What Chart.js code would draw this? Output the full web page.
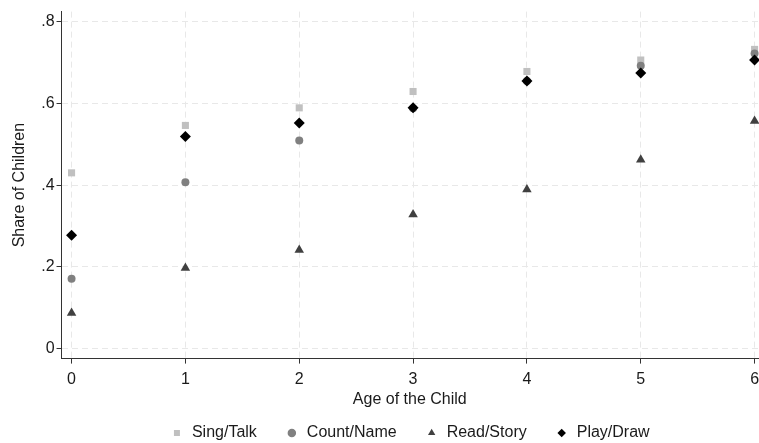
<!DOCTYPE html>
<html>
<head>
<meta charset="utf-8">
<script src="https://cdn.jsdelivr.net/npm/chart.js@4/dist/chart.umd.min.js"></script>
<style>
  html, body { margin: 0; padding: 0; background: #fff; }
  #wrap { width: 759px; height: 443px; position: relative; }
</style>
</head>
<body>
<div id="wrap"><canvas id="chart"></canvas></div>
<script>
// data
const ages = [0, 1, 2, 3, 4, 5, 6];
const singTalk = [0.430, 0.546, 0.589, 0.629, 0.678, 0.706, 0.732];
const countName = [0.171, 0.407, 0.509, 0.588, 0.655, 0.692, 0.722];
const readStory = [0.087, 0.197, 0.241, 0.328, 0.389, 0.462, 0.557];
const playDraw = [0.277, 0.519, 0.552, 0.589, 0.655, 0.674, 0.706];
const yTicks = [0, 0.2, 0.4, 0.6, 0.8];

const font = 'Arial, "Liberation Sans", sans-serif';
const toPoints = (vals) => ages.map((a, i) => ({ x: a, y: vals[i] }));

// Stata style y labels: 0 .2 .4 ...
const fmtY = (v) => {
  const r = Math.round(v * 10) / 10;
  return r === 0 ? '0' : r.toFixed(1).replace(/^0/, '');
};

const ctx = document.getElementById('chart').getContext('2d');
new Chart(ctx, {
  type: 'scatter',
  data: {
    datasets: [
      { label: 'Sing/Talk', data: toPoints(singTalk), pointStyle: 'rect', pointRadius: 5,
        backgroundColor: '#c0c0c0', borderColor: '#c0c0c0', borderWidth: 0, order: 4 },
      { label: 'Count/Name', data: toPoints(countName), pointStyle: 'circle', pointRadius: 4,
        backgroundColor: '#808080', borderColor: '#808080', borderWidth: 0, order: 3 },
      { label: 'Read/Story', data: toPoints(readStory), pointStyle: 'triangle', pointRadius: 5.5,
        backgroundColor: '#404040', borderColor: '#404040', borderWidth: 0, order: 2 },
      { label: 'Play/Draw', data: toPoints(playDraw), pointStyle: 'rectRot', pointRadius: 5.5,
        backgroundColor: '#000000', borderColor: '#000000', borderWidth: 0, order: 1 }
    ]
  },
  options: {
    responsive: true,
    maintainAspectRatio: false,
    animation: false,
    clip: false,
    layout: { autoPadding: false, padding: { top: 7, right: 0, left: 0, bottom: -8 } },
    plugins: {
      tooltip: { enabled: false },
      legend: {
        position: 'bottom',
        fullSize: false, // centre under the plot area, not the canvas
        labels: {
          usePointStyle: true,
          boxWidth: 14,
          boxHeight: 6,
          padding: 28,
          color: '#1a1a1a',
          font: { family: font, size: 16 },
          sort: (a, b) => a.datasetIndex - b.datasetIndex
        }
      }
    },
    scales: {
      x: {
        type: 'linear',
        min: -0.088,
        max: 6.03,
        // let the last label run to the canvas edge like the original
        afterFit: (s) => { s.paddingRight = 1; },
        title: { display: true, text: 'Age of the Child', color: '#1a1a1a',
                 font: { family: font, size: 16 }, padding: { top: -5, bottom: -12 } },
        ticks: { stepSize: 1, includeBounds: false, color: '#1a1a1a',
                 font: { family: font, size: 16 }, padding: 6 },
        grid: { color: '#e8e8e8', tickColor: '#333333', tickLength: 5, tickBorderDash: [] },
        border: { display: true, color: '#333333', width: 1, dash: [6, 4] }
      },
      y: {
        min: -0.0245,
        max: 0.8245,
        title: { display: true, text: 'Share of Children', color: '#1a1a1a',
                 font: { family: font, size: 16 }, padding: { top: 10, bottom: 10 } },
        afterBuildTicks: (axis) => { axis.ticks = yTicks.map(v => ({ value: v })); },
        ticks: { color: '#1a1a1a', font: { family: font, size: 16 }, padding: 2,
                 callback: (v) => fmtY(v) },
        grid: { color: '#e8e8e8', tickColor: '#333333', tickLength: 5, tickBorderDash: [] },
        border: { display: true, color: '#333333', width: 1, dash: [6, 4] }
      }
    }
  }
});
</script>
</body>
</html>
